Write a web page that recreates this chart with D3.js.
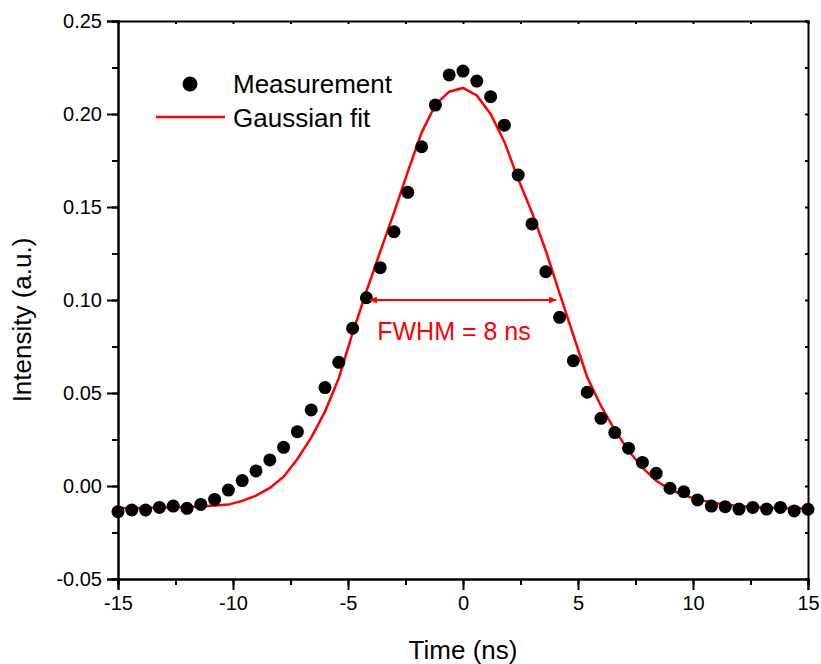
<!DOCTYPE html>
<html lang="en">
<head>
  <meta charset="UTF-8">
  <title>Gaussian pulse fit</title>
  <script src="https://d3js.org/d3.v7.min.js"></script>
  <style>
    * { margin: 0; padding: 0; box-sizing: border-box; }
    body { background: #fff; width: 821px; height: 664px; overflow: hidden; }
    svg { display: block; font-family: 'Liberation Sans', Arial, sans-serif; }
    .tick text { font-size: 20px; fill: #000; }
  </style>
</head>
<body>
  <svg id="chart" width="821" height="664"></svg>

  <script>
    // measured intensity, one point every 0.6 ns from -15 to 15 ns
    const timeStart = -15, timeStep = 0.6;
    const measured = [
      -0.0138, -0.0129, -0.0129, -0.0115, -0.0108, -0.0120, -0.0099, -0.0072,
      -0.0022, 0.0029, 0.0081, 0.0140, 0.0208, 0.0292, 0.0409, 0.0529,
      0.0665, 0.0848, 0.1012, 0.1174, 0.1367, 0.1579, 0.1824, 0.2048,
      0.2210, 0.2231, 0.2177, 0.2093, 0.1940, 0.1672, 0.1409, 0.1152,
      0.0907, 0.0674, 0.0504, 0.0364, 0.0287, 0.0203, 0.0127, 0.0068,
      -0.0012, -0.0031, -0.0075, -0.0108, -0.0111, -0.0124, -0.0115, -0.0124,
      -0.0115, -0.0134, -0.0125
    ];

    // gaussian fit curve, read at the same time steps
    const fitted = [
      -0.0118, -0.0118, -0.0117, -0.0116, -0.0115, -0.0113, -0.0110, -0.0105,
      -0.0100, -0.0080, -0.0052, -0.0010, 0.0050, 0.0145, 0.0260, 0.0400,
      0.0580, 0.0823, 0.1046, 0.1260, 0.1470, 0.1690, 0.1900, 0.2050,
      0.2120, 0.2140, 0.2100, 0.2000, 0.1850, 0.1650, 0.1470, 0.1265,
      0.1035, 0.0810, 0.0585, 0.0430, 0.0300, 0.0190, 0.0098, 0.0028,
      -0.0018, -0.0050, -0.0072, -0.0088, -0.0100, -0.0108, -0.0113, -0.0116,
      -0.0118, -0.0119, -0.0120
    ];

    const xTicks = [-15, -10, -5, 0, 5, 10, 15];
    const yTicks = [-0.05, 0.00, 0.05, 0.10, 0.15, 0.20, 0.25];
    const fwhmRange = [-4.05, 4.05];
    const fwhmLevel = 0.1;

    const width = 821, height = 664;
    const margin = { top: 21, right: 13, bottom: 85, left: 118 };

    const svg = d3.select("#chart");

    const x = d3.scaleLinear().domain([-15, 15]).range([margin.left, width - margin.right]);
    const y = d3.scaleLinear().domain([-0.05, 0.25]).range([height - margin.bottom, margin.top]);

    const xMinor = d3.range(-15, 15.01, 2.5);
    const yMinor = d3.range(-0.05, 0.2501, 0.025);

    // plain hyphen for negatives, like the original
    const fmtX = d => String(d);
    const fmtY = d => d.toFixed(2).replace("\u2212", "-");

    function styleAxis(g) {
      g.select(".domain").attr("stroke", "#000").attr("stroke-width", 2);
      g.selectAll(".tick line").attr("stroke", "#000").attr("stroke-width", 2);
    }

    // minor ticks (bottom / left, outward)
    svg.append("g")
      .attr("transform", `translate(0,${y.range()[0]})`)
      .call(d3.axisBottom(x).tickValues(xMinor).tickSize(6).tickFormat(""))
      .call(styleAxis);
    svg.append("g")
      .attr("transform", `translate(${x.range()[0]},0)`)
      .call(d3.axisLeft(y).tickValues(yMinor).tickSize(6).tickFormat(""))
      .call(styleAxis);

    // major ticks with labels
    svg.append("g")
      .attr("transform", `translate(0,${y.range()[0]})`)
      .call(d3.axisBottom(x).tickValues(xTicks).tickSize(11).tickPadding(6).tickFormat(fmtX))
      .call(styleAxis);
    svg.append("g")
      .attr("transform", `translate(${x.range()[0]},0)`)
      .call(d3.axisLeft(y).tickValues(yTicks).tickSize(11).tickPadding(5).tickFormat(fmtY))
      .call(styleAxis);

    // top and right frame with small inward ticks
    svg.append("g")
      .attr("transform", `translate(0,${y.range()[1]})`)
      .call(d3.axisBottom(x).tickValues(xMinor).tickSize(3).tickFormat(""))
      .call(styleAxis);
    svg.append("g")
      .attr("transform", `translate(${x.range()[1]},0)`)
      .call(d3.axisLeft(y).tickValues(yMinor).tickSize(3).tickFormat(""))
      .call(styleAxis);

    // fit line
    const line = d3.line()
      .x((d, i) => x(timeStart + i * timeStep))
      .y(d => y(d));

    svg.append("path")
      .datum(fitted)
      .attr("fill", "none")
      .attr("stroke", "#ff0000")
      .attr("stroke-width", 2.5)
      .attr("d", line);

    // measured points
    svg.append("g")
      .selectAll("circle")
      .data(measured)
      .join("circle")
      .attr("cx", (d, i) => x(timeStart + i * timeStep))
      .attr("cy", d => y(d))
      .attr("r", 6.5)
      .attr("fill", "#000");

    // FWHM arrow
    const defs = svg.append("defs");
    defs.append("marker")
      .attr("id", "head")
      .attr("viewBox", "0 0 10 10")
      .attr("refX", 10).attr("refY", 5)
      .attr("markerWidth", 4.5).attr("markerHeight", 3.5)
      .attr("orient", "auto-start-reverse")
      .append("path")
      .attr("d", "M0,0 L10,5 L0,10 z")
      .attr("fill", "#ff0000");

    svg.append("line")
      .attr("x1", x(fwhmRange[0])).attr("x2", x(fwhmRange[1]))
      .attr("y1", y(fwhmLevel)).attr("y2", y(fwhmLevel))
      .attr("stroke", "#ff0000")
      .attr("stroke-width", 2)
      .attr("marker-start", "url(#head)")
      .attr("marker-end", "url(#head)");

    svg.append("text")
      .attr("x", 454)
      .attr("y", 340)
      .attr("text-anchor", "middle")
      .attr("fill", "#ff0000")
      .style("font-size", "25px")
      .text("FWHM = 8 ns");

    // legend
    const legend = svg.append("g");
    legend.append("circle").attr("cx", 190).attr("cy", 84).attr("r", 7.5).attr("fill", "#000");
    legend.append("text").attr("x", 233).attr("y", 93).style("font-size", "26px").text("Measurement");
    legend.append("line").attr("x1", 156).attr("x2", 225).attr("y1", 117).attr("y2", 117)
      .attr("stroke", "#ff0000").attr("stroke-width", 2.5);
    legend.append("text").attr("x", 233).attr("y", 127).style("font-size", "26px").text("Gaussian fit");

    // axis titles
    svg.append("text")
      .attr("x", x(0))
      .attr("y", 659)
      .attr("text-anchor", "middle")
      .style("font-size", "26px")
      .text("Time (ns)");

    svg.append("text")
      .attr("transform", `translate(31,${(y.range()[0] + y.range()[1]) / 2 + 20}) rotate(-90)`)
      .attr("text-anchor", "middle")
      .style("font-size", "26px")
      .text("Intensity (a.u.)");
  </script>
</body>
</html>
